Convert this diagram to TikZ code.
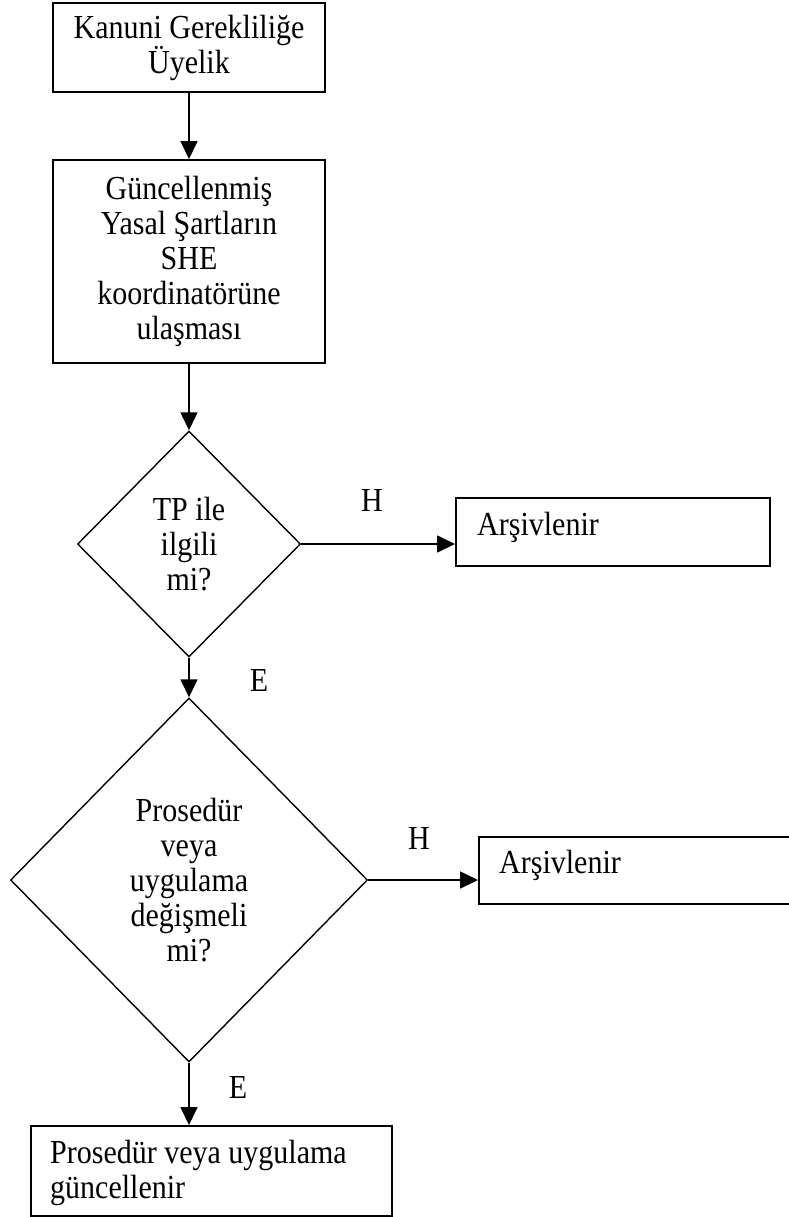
\documentclass[tikz,border=0pt]{standalone}
\usepackage{graphicx}
\usepackage{fontspec}
\setmainfont{Liberation Serif}
\usetikzlibrary{shapes.geometric,arrows.meta}
\newcommand{\vs}[1]{\scalebox{1}[1.12]{#1}}
\begin{document}
\begin{tikzpicture}[x=1pt,y=-1pt,
  every node/.style={font=\fontsize{30}{35}\selectfont},
  procbox/.style={draw,line width=1.9pt,rectangle,inner sep=0pt,align=center},
  decbox/.style={draw,line width=1.4pt,diamond,inner sep=0pt,align=center},
  plain/.style={inner sep=0pt,align=left},
  flow/.style={line width=1.5pt,-{Triangle[length=18pt,width=17pt]}},
  lbl/.style={inner sep=0pt}]
\useasboundingbox (0,0) rectangle (789,1217);
\fill[white] (0,0) rectangle (789,1217);
% boxes
\node[procbox,minimum width=272pt,minimum height=89pt] (b1) at (189,47.5)
  {\vs{Kanuni Gerekliliğe}\\\vs{Üyelik}};
\node[procbox,minimum width=272pt,minimum height=203pt] (b2) at (189,261.5)
  {\vs{Güncellenmiş}\\\vs{Yasal Şartların}\\\vs{SHE}\\\vs{koordinatörüne}\\\vs{ulaşması}};
\node[decbox,minimum width=223pt,minimum height=226pt] (d1) at (189,544)
  {\vs{TP ile}\\\vs{ilgili}\\\vs{mi?}};
\node[procbox,minimum width=314pt,minimum height=68pt] (a1) at (613,532) {};
\node[plain,anchor=base west] (a1t) at (477,535) {\vs{Arşivlenir}};
\node[decbox,minimum width=357pt,minimum height=364pt] (d2) at (189,880)
  {\vs{Prosedür}\\\vs{veya}\\\vs{uygulama}\\\vs{değişmeli}\\\vs{mi?}};
\node[procbox,minimum width=330pt,minimum height=67pt] (a2) at (644,870.5) {};
\node[plain,anchor=base west] (a2t) at (499,873) {\vs{Arşivlenir}};
\node[procbox,minimum width=361pt,minimum height=90pt] (b3) at (211.5,1171) {};
\node[plain,anchor=base west] (b3t) at (50,1198) {\vs{Prosedür veya uygulama}\\\vs{güncellenir}};
% labels
\node[lbl] (h1) at (372,500) {\vs{H}};
\node[lbl] (e1) at (259,680) {\vs{E}};
\node[lbl] (h2) at (419,838) {\vs{H}};
\node[lbl] (e2) at (238,1087) {\vs{E}};
% connectors
\draw[flow] (b1.south) -- (b2.north);
\draw[flow] (b2.south) -- (d1.north);
\draw[flow] (d1.east) -- (d1.east -| a1.west);
\draw[flow] (d1.south) -- (d2.north);
\draw[flow] (d2.east) -- (d2.east -| a2.west);
\draw[flow] (d2.south) -- (d2.south |- b3.north);
\end{tikzpicture}
\end{document}
